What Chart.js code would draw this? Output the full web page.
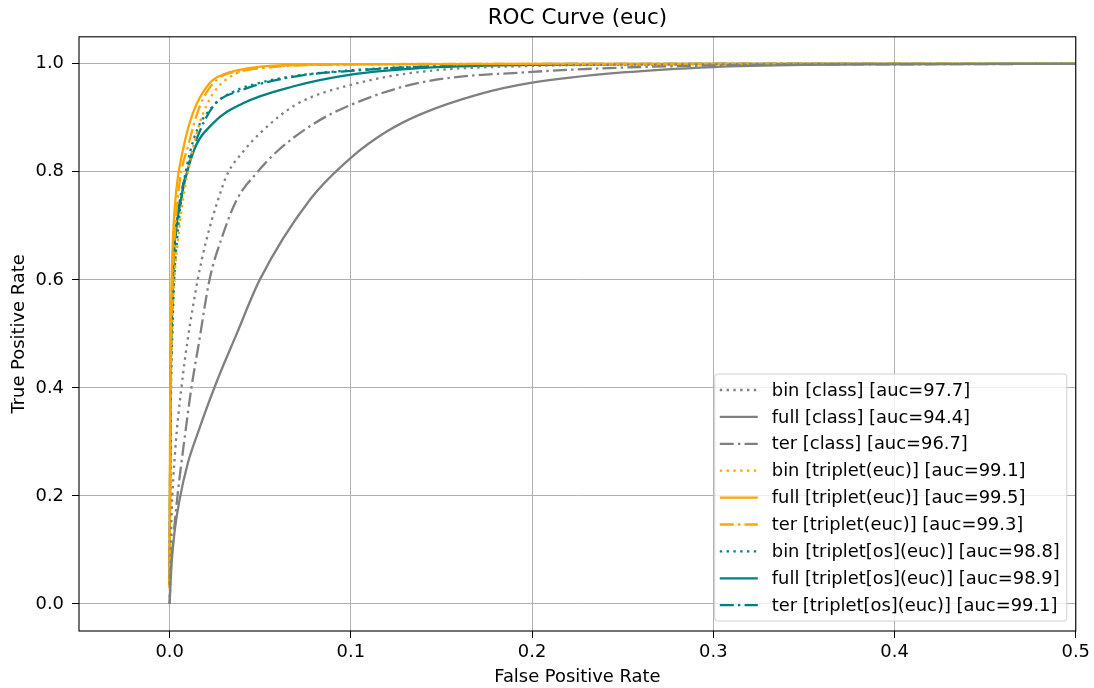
<!DOCTYPE html>
<html>
<head>
<meta charset="utf-8">
<script src="https://cdn.jsdelivr.net/npm/chart.js@4.4.1/dist/chart.umd.min.js"></script>
<style>
  html, body { margin: 0; padding: 0; background: #fff; }
  #wrap { width: 1094px; height: 688px; }
</style>
</head>
<body>
<div id="wrap"><canvas id="roc" width="1094" height="688"></canvas></div>
<script>
// values
const xTicks = [0.0, 0.1, 0.2, 0.3, 0.4, 0.5];
const yTicks = [0.0, 0.2, 0.4, 0.6, 0.8, 1.0];

const seriesLabels = [
  'bin [class] [auc=97.7]',
  'full [class] [auc=94.4]',
  'ter [class] [auc=96.7]',
  'bin [triplet(euc)] [auc=99.1]',
  'full [triplet(euc)] [auc=99.5]',
  'ter [triplet(euc)] [auc=99.3]',
  'bin [triplet[os](euc)] [auc=98.8]',
  'full [triplet[os](euc)] [auc=98.9]',
  'ter [triplet[os](euc)] [auc=99.1]',
];

const binClassFpr = [0, 0.0005, 0.001, 0.003, 0.0065, 0.01, 0.0155, 0.02, 0.0267, 0.032, 0.04, 0.05, 0.07, 0.1, 0.138, 0.2, 0.3, 0.4, 0.5];
const binClassTpr = [0, 0.08, 0.155, 0.28, 0.40, 0.49, 0.60, 0.67, 0.748, 0.797, 0.835, 0.872, 0.925, 0.961, 0.985, 0.996, 0.999, 1.0, 1.0];

const fullClassFpr = [0, 0.001, 0.0026, 0.0055, 0.01, 0.0155, 0.0258, 0.037, 0.0497, 0.0773, 0.1, 0.12, 0.138, 0.17, 0.2, 0.25, 0.3, 0.35, 0.4, 0.5];
const fullClassTpr = [0, 0.07, 0.13, 0.193, 0.26, 0.316, 0.41, 0.50, 0.60, 0.748, 0.826, 0.875, 0.906, 0.943, 0.965, 0.984, 0.994, 0.998, 0.999, 1.0];

const terClassFpr = [0, 0.0005, 0.002, 0.0045, 0.008, 0.012, 0.016, 0.022, 0.029, 0.037, 0.048, 0.06, 0.08, 0.1, 0.138, 0.2, 0.3, 0.4, 0.5];
const terClassTpr = [0, 0.05, 0.12, 0.205, 0.30, 0.40, 0.48, 0.60, 0.68, 0.748, 0.798, 0.84, 0.89, 0.924, 0.965, 0.985, 0.997, 0.999, 1.0];

const binEucFpr = [0, 0.0003, 0.0008, 0.0015, 0.0028, 0.0045, 0.0068, 0.0101, 0.0166, 0.024, 0.0368, 0.055, 0.08, 0.12, 0.2, 0.5];
const binEucTpr = [0.03, 0.25, 0.42, 0.52, 0.61, 0.67, 0.735, 0.80, 0.89, 0.945, 0.982, 0.994, 0.998, 0.999, 1.0, 1.0];

const fullEucFpr = [0, 0.0002, 0.0006, 0.0011, 0.0018, 0.0037, 0.0074, 0.0129, 0.022, 0.031, 0.042, 0.06, 0.1, 0.2, 0.5];
const fullEucTpr = [0.03, 0.3, 0.5, 0.6, 0.674, 0.767, 0.841, 0.909, 0.964, 0.982, 0.991, 0.997, 0.999, 1.0, 1.0];

const terEucFpr = [0, 0.0003, 0.0008, 0.0015, 0.0027, 0.0055, 0.0101, 0.0166, 0.0258, 0.0405, 0.06, 0.1, 0.2, 0.5];
const terEucTpr = [0.03, 0.28, 0.48, 0.58, 0.674, 0.78, 0.847, 0.921, 0.97, 0.987, 0.995, 0.999, 1.0, 1.0];

const binOsFpr = [0, 0.0003, 0.0008, 0.0015, 0.0025, 0.004, 0.0065, 0.0128, 0.024, 0.035, 0.05, 0.07, 0.1, 0.15, 0.25, 0.5];
const binOsTpr = [0.035, 0.2, 0.4, 0.5, 0.6, 0.67, 0.75, 0.855, 0.922, 0.948, 0.965, 0.978, 0.988, 0.996, 0.999, 1.0];

const fullOsFpr = [0, 0.0002, 0.0005, 0.001, 0.0018, 0.0026, 0.0055, 0.0129, 0.024, 0.0405, 0.068, 0.1, 0.138, 0.2, 0.3, 0.5];
const fullOsTpr = [0.035, 0.2, 0.4, 0.5, 0.6, 0.66, 0.735, 0.835, 0.89, 0.927, 0.958, 0.98, 0.992, 0.998, 1.0, 1.0];

const terOsFpr = [0, 0.0002, 0.0005, 0.001, 0.0018, 0.003, 0.0055, 0.0092, 0.0147, 0.024, 0.0405, 0.068, 0.1, 0.15, 0.25, 0.5];
const terOsTpr = [0.035, 0.2, 0.4, 0.5, 0.6, 0.67, 0.745, 0.797, 0.859, 0.921, 0.952, 0.976, 0.987, 0.996, 1.0, 1.0];

const GRAY = '#808080';
const ORANGE = '#ffa500';
const TEAL = '#008080';
const DOTTED = [2.4, 4.4];
const DASHDOT = [14, 4.2, 2.4, 4.2];
const FONT = "'DejaVu Sans', sans-serif";
const FS = 17.9;

const pairs = (xs, ys) => xs.map((x, i) => ({ x: x, y: ys[i] }));

const seriesData = [
  pairs(binClassFpr, binClassTpr),
  pairs(fullClassFpr, fullClassTpr),
  pairs(terClassFpr, terClassTpr),
  pairs(binEucFpr, binEucTpr),
  pairs(fullEucFpr, fullEucTpr),
  pairs(terEucFpr, terEucTpr),
  pairs(binOsFpr, binOsTpr),
  pairs(fullOsFpr, fullOsTpr),
  pairs(terOsFpr, terOsTpr),
];
const seriesColors = [GRAY, GRAY, GRAY, ORANGE, ORANGE, ORANGE, TEAL, TEAL, TEAL];
const seriesDash = [DOTTED, [], DASHDOT, DOTTED, [], DASHDOT, DOTTED, [], DASHDOT];

const datasets = seriesData.map((d, i) => ({
  label: seriesLabels[i],
  data: d,
  showLine: true,
  borderColor: seriesColors[i],
  backgroundColor: seriesColors[i],
  borderDash: seriesDash[i],
  borderWidth: 2.3,
  pointRadius: 0,
  fill: false,
  cubicInterpolationMode: 'monotone',
}));

// matplotlib style axes box + legend inside the plot
const boxAndLegend = {
  id: 'boxAndLegend',
  afterDatasetsDraw(chart) {
    const { ctx, chartArea } = chart;
    ctx.save();
    ctx.strokeStyle = '#000';
    ctx.lineWidth = 1.1;
    ctx.setLineDash([]);
    ctx.strokeRect(chartArea.left, chartArea.top, chartArea.right - chartArea.left, chartArea.bottom - chartArea.top);

    const w = 352, h = 247;
    const right = chartArea.right - 9;
    const bottom = chartArea.bottom - 10;
    const left = right - w, top = bottom - h;
    ctx.beginPath();
    ctx.roundRect(left, top, w, h, 3);
    ctx.fillStyle = 'rgba(255,255,255,0.8)';
    ctx.fill();
    ctx.strokeStyle = '#d0d0d0';
    ctx.lineWidth = 1;
    ctx.stroke();

    ctx.font = FS + 'px ' + FONT;
    ctx.textBaseline = 'middle';
    ctx.textAlign = 'left';
    chart.data.datasets.forEach((ds, i) => {
      const y = top + 16 + i * 26.9;
      ctx.beginPath();
      ctx.setLineDash(ds.borderDash);
      ctx.strokeStyle = ds.borderColor;
      ctx.lineWidth = ds.borderWidth;
      ctx.moveTo(left + 5, y);
      ctx.lineTo(left + 43, y);
      ctx.stroke();
      ctx.setLineDash([]);
      ctx.fillStyle = '#000';
      ctx.fillText(ds.label, left + 57, y + 1);
    });
    ctx.restore();
  }
};

const ctx = document.getElementById('roc').getContext('2d');
new Chart(ctx, {
  type: 'scatter',
  data: { datasets: datasets },
  options: {
    responsive: false,
    animation: false,
    devicePixelRatio: 1,
    layout: { padding: { left: 0, right: 18, top: 0, bottom: 0 } },
    plugins: {
      legend: { display: false },
      tooltip: { enabled: false },
      title: {
        display: true,
        fullSize: false,
        text: 'ROC Curve (euc)',
        color: '#000',
        font: { family: FONT, size: 21.5, weight: 'normal' },
        padding: { top: 6, bottom: 5 },
      },
    },
    scales: {
      x: {
        type: 'linear',
        min: -0.05,
        max: 0.5,
        afterBuildTicks: (scale) => { scale.ticks = xTicks.map(v => ({ value: v })); },
        afterFit: (scale) => { scale.height = 57; },
        grid: { color: '#b0b0b0', lineWidth: 1, tickColor: '#000', tickLength: 7, tickWidth: 1 },
        border: { display: false },
        ticks: {
          color: '#000',
          font: { family: FONT, size: FS },
          padding: 4,
          maxRotation: 0,
          callback: (v) => Number(v).toFixed(1),
        },
        title: {
          display: true,
          text: 'False Positive Rate',
          color: '#000',
          font: { family: FONT, size: FS },
          padding: { top: 0, bottom: 0 },
        },
      },
      y: {
        type: 'linear',
        min: -0.05,
        max: 1.05,
        afterBuildTicks: (scale) => { scale.ticks = yTicks.map(v => ({ value: v })); },
        afterFit: (scale) => { scale.width = 79; },
        grid: { color: '#b0b0b0', lineWidth: 1, tickColor: '#000', tickLength: 7, tickWidth: 1 },
        border: { display: false },
        ticks: {
          color: '#000',
          font: { family: FONT, size: FS },
          padding: 8,
          callback: (v) => Number(v).toFixed(1),
        },
        title: {
          display: true,
          text: 'True Positive Rate',
          color: '#000',
          font: { family: FONT, size: FS },
          padding: { top: 9, bottom: 0 },
        },
      },
    },
  },
  plugins: [boxAndLegend],
});
</script>
</body>
</html>
